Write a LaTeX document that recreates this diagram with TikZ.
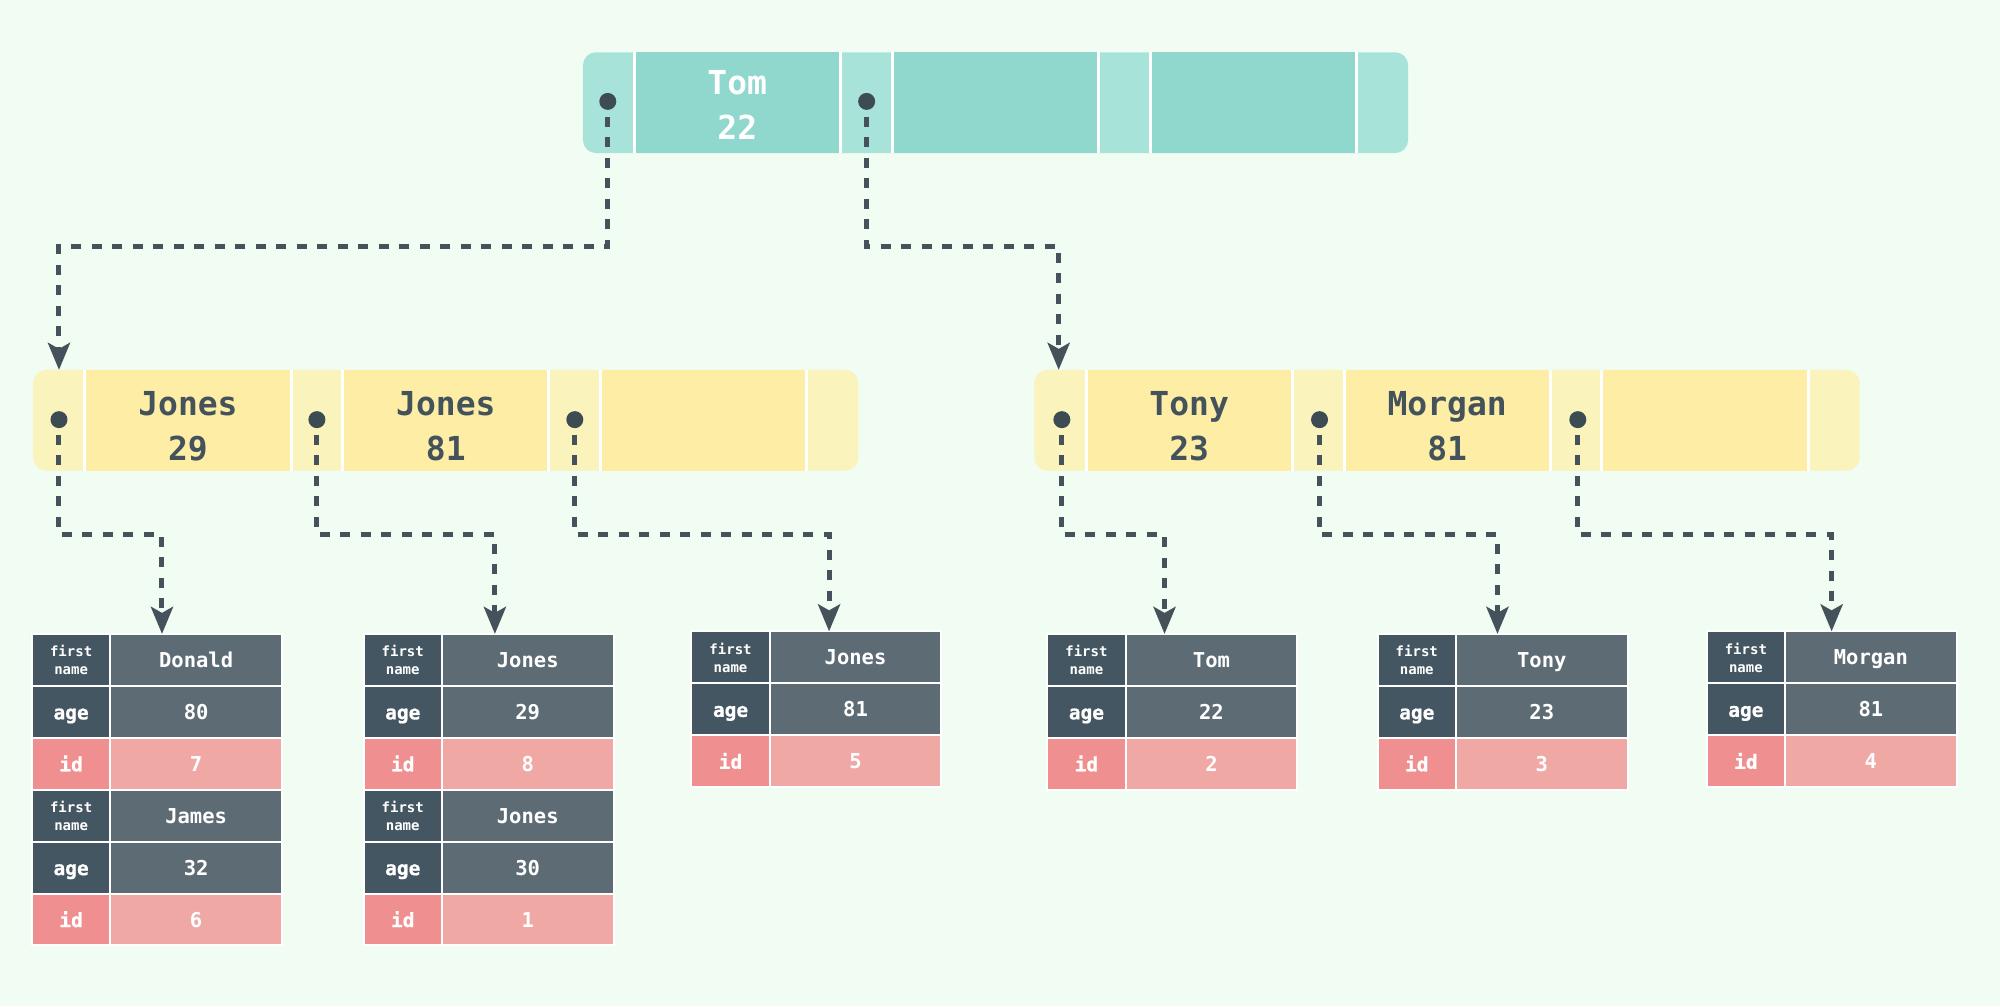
\documentclass[tikz,border=0pt]{standalone}
\usepackage{fontspec}
\setmonofont{DejaVu Sans Mono}
\newfontfamily\keymono[BoldFeatures={FakeBold=0.8}]{DejaVu Sans Mono}
\usetikzlibrary{arrows.meta}
\definecolor{bgc}{HTML}{F1FDF3}
\definecolor{tsmall}{HTML}{A8E3DA}
\definecolor{tbig}{HTML}{90D8CE}
\definecolor{ysmall}{HTML}{FAF3BB}
\definecolor{ybig}{HTML}{FDEDA5}
\definecolor{keyc}{HTML}{435661}
\definecolor{valc}{HTML}{5D6C74}
\definecolor{idkey}{HTML}{F08F8F}
\definecolor{idval}{HTML}{F0A8A5}
\definecolor{textc}{HTML}{44525C}
\definecolor{connc}{HTML}{45525B}
\definecolor{dotc}{HTML}{3D4C53}
\tikzset{
  conn/.style={draw=connc, line width=5pt, dash pattern=on 10pt off 10.5pt, dash phase=14pt,
    -{Stealth[length=27pt,width=22pt,inset=6pt]}},
  dotn/.style={circle, fill=dotc, inner sep=0pt, minimum size=17pt},
  bigtxt/.style={font=\ttfamily\bfseries\fontsize{33}{45}\selectfont, align=center, inner sep=0pt},
  celltxt/.style={font=\ttfamily\bfseries\fontsize{20.5}{24}\selectfont, text=white, anchor=base, inner sep=0pt},
  keytxt/.style={font=\keymono\bfseries\fontsize{19.5}{24}\selectfont, text=white, anchor=base, inner sep=0pt},
  smtxt/.style={font=\ttfamily\bfseries\fontsize{14}{18}\selectfont, text=white, align=center, inner sep=0pt},
  cell/.style={draw=white, line width=2pt},
}
% B-tree node shape: x, y, small colour, big colour
\newcommand\bshape[4]{%
  \fill[#3, rounded corners=13pt] (#1,#2) rectangle ++(647,79);
  \fill[#4] ({#1+40.5},#2) rectangle ++(161.7,79);
  \fill[#4] ({#1+242.7},#2) rectangle ++(161.7,79);
  \fill[#4] ({#1+444.9},#2) rectangle ++(161.7,79);
  \foreach \d in {40.5,202.2,242.7,404.4,444.9,606.6}
    \draw[white, line width=3pt] ({#1+\d},#2) -- ++(0,79);
}
% record: name, x, y, first name, age, id
\newcommand\rec[6]{%
  \filldraw[cell, fill=keyc] (#2,#3) rectangle ++(61.5,40.7);
  \filldraw[cell, fill=valc] ({#2+61.5},#3) rectangle ++(134.5,40.7);
  \filldraw[cell, fill=keyc] (#2,{#3+40.7}) rectangle ++(61.5,40.7);
  \filldraw[cell, fill=valc] ({#2+61.5},{#3+40.7}) rectangle ++(134.5,40.7);
  \filldraw[cell, fill=idkey] (#2,{#3+81.4}) rectangle ++(61.5,40.7);
  \filldraw[cell, fill=idval] ({#2+61.5},{#3+81.4}) rectangle ++(134.5,40.7);
  \node[smtxt] (#1-fk) at ({#2+30.75},{#3+20.6}) {first\\name};
  \node[celltxt] (#1-fv) at ({#2+128.75},{#3+26.3}) {#4};
  \node[keytxt] (#1-ak) at ({#2+30.75},{#3+67}) {age};
  \node[celltxt] (#1-av) at ({#2+128.75},{#3+67}) {#5};
  \node[keytxt] (#1-ik) at ({#2+30.75},{#3+107.7}) {id};
  \node[celltxt] (#1-iv) at ({#2+128.75},{#3+107.7}) {#6};
}
\begin{document}
\begin{tikzpicture}[x=1.2755pt, y=-1.2755pt]
\fill[bgc] (0,0) rectangle (1568,789);
\useasboundingbox (0,0) rectangle (1568,789);

% root
\bshape{457}{41}{tsmall}{tbig}
\node[bigtxt, text=white] (Top-k1) at (578,82) {Tom\\22};
\node[dotn] (Top-p1) at (476.5,79.5) {};
\node[dotn] (Top-p2) at (679.45,79.5) {};

% left inner node
\bshape{26}{290}{ysmall}{ybig}
\node[bigtxt, text=textc] (L-k1) at (147.35,334.5) {Jones\\29};
\node[bigtxt, text=textc] (L-k2) at (349.55,334.5) {Jones\\81};
\node[dotn] (L-p1) at (46.25,329) {};
\node[dotn] (L-p2) at (248.45,329) {};
\node[dotn] (L-p3) at (450.65,329) {};

% right inner node
\bshape{811}{290}{ysmall}{ybig}
\node[bigtxt, text=textc] (R-k1) at (932.35,334.5) {Tony\\23};
\node[bigtxt, text=textc] (R-k2) at (1134.55,334.5) {Morgan\\81};
\node[dotn] (R-p1) at (832.5,329) {};
\node[dotn] (R-p2) at (1034.5,329) {};
\node[dotn] (R-p3) at (1237,329) {};

% leaf records
\rec{T1a}{25}{497}{Donald}{80}{7}
\rec{T1b}{25}{619.1}{James}{32}{6}
\rec{T2a}{285}{497}{Jones}{29}{8}
\rec{T2b}{285}{619.1}{Jones}{30}{1}
\rec{T3}{542}{495}{Jones}{81}{5}
\rec{T4}{821}{497}{Tom}{22}{2}
\rec{T5}{1080}{497}{Tony}{23}{3}
\rec{T6}{1338}{495}{Morgan}{81}{4}

% arrow targets and bend levels
\coordinate (L-in) at (46.25,290);
\coordinate (R-in) at (830,290);
\coordinate (T1-in) at (127,497);
\coordinate (T2-in) at (388,497);
\coordinate (T3-in) at (650,495);
\coordinate (T4-in) at (913,497);
\coordinate (T5-in) at (1174,497);
\coordinate (T6-in) at (1436,495);
\coordinate (hTop) at (0,193);
\coordinate (hMid) at (0,419);

% connectors
\draw[conn] (Top-p1) -- (Top-p1 |- hTop) -| (L-in);
\draw[conn] (Top-p2) -- (Top-p2 |- hTop) -| (R-in);
\draw[conn] (L-p1) -- (L-p1 |- hMid) -| (T1-in);
\draw[conn] (L-p2) -- (L-p2 |- hMid) -| (T2-in);
\draw[conn] (L-p3) -- (L-p3 |- hMid) -| (T3-in);
\draw[conn] (R-p1) -- (R-p1 |- hMid) -| (T4-in);
\draw[conn] (R-p2) -- (R-p2 |- hMid) -| (T5-in);
\draw[conn] (R-p3) -- (R-p3 |- hMid) -| (T6-in);
\end{tikzpicture}
\end{document}
